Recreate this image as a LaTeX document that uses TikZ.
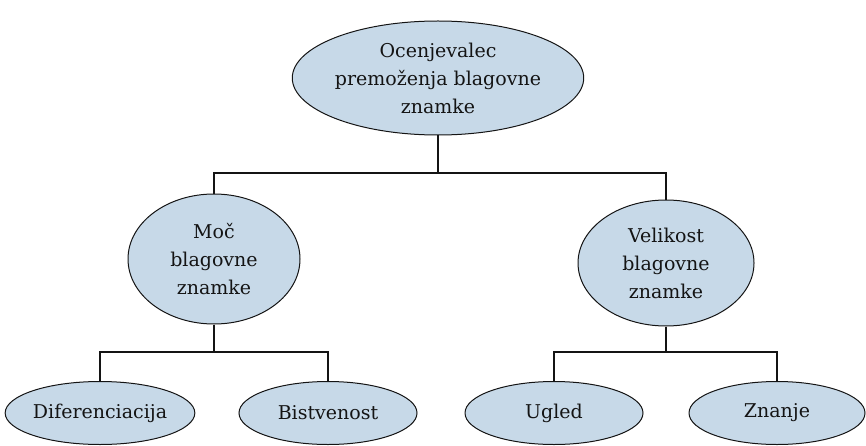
\documentclass[tikz,border=0pt]{standalone}
\usepackage{fontspec}
\newfontfamily\diagfont{DejaVu Serif}
\usetikzlibrary{shapes.geometric}
\definecolor{ellfill}{RGB}{199,217,232}
\definecolor{ink}{RGB}{20,20,20}
\begin{document}
\begin{tikzpicture}[x=1pt,y=1pt,
  oval/.style={ellipse, draw=ink, line width=1pt, fill=ellfill, inner sep=0pt,
    align=center, text=ink, font=\diagfont\fontsize{19}{28}\selectfont},
  link/.style={draw=ink, line width=1.2pt}]
\useasboundingbox (0,0) rectangle (866,445);
\node[oval, minimum width=284pt, minimum height=114pt] (top) at (438,367)
  {Ocenjevalec\\premoženja blagovne\\znamke};
\node[oval, minimum width=172pt, minimum height=130pt] (moc) at (214,186)
  {Moč\\blagovne\\znamke};
\node[oval, minimum width=176pt, minimum height=126pt] (vel) at (666,182)
  {Velikost\\blagovne\\znamke};
\node[oval, minimum width=180pt, minimum height=63pt] (dif) at (100,32) {Diferenciacija};
\node[oval, minimum width=178pt, minimum height=63pt] (bis) at (328,32) {Bistvenost};
\node[oval, minimum width=178pt, minimum height=63pt] (ugl) at (554,32) {Ugled};
\node[oval, minimum width=176pt, minimum height=63pt] (zna) at (777,32) {Znanje};
\coordinate (j1) at (438,272);
\coordinate (j2) at (214,93);
\coordinate (j3) at (666,93);
\draw[link] (top.south) -- (j1);
\draw[link] (j1) -| (moc.north);
\draw[link] (j1) -| (vel.north);
\draw[link] (moc.south) -- (j2);
\draw[link] (j2) -| (dif.north);
\draw[link] (j2) -| (bis.north);
\draw[link] (vel.south) -- (j3);
\draw[link] (j3) -| (ugl.north);
\draw[link] (j3) -| (zna.north);
\end{tikzpicture}
\end{document}
